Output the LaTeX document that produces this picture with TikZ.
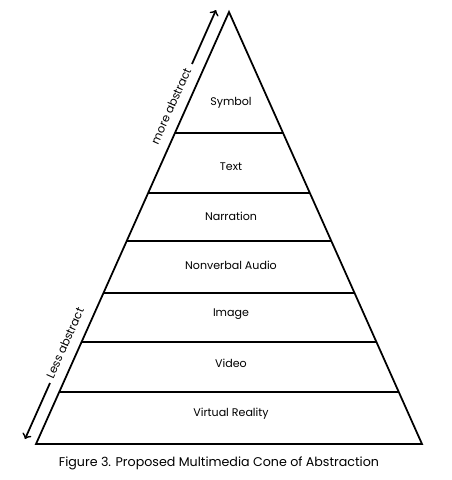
\documentclass[tikz,border=0pt]{standalone}
\usepackage{fontspec}
\setmainfont{Poppins}
\usetikzlibrary{calc}

\tikzset{
  layer/.style={font=\fontsize{6.3}{8}\selectfont},
  side/.style={font=\fontsize{6.5}{8}\selectfont, rotate=65.9}
}

\begin{document}
\begin{tikzpicture}[>=to, x=0.02cm, y=-0.02cm, line width=1pt]
  \useasboundingbox (0,0) rectangle (451,480);
  % cone
  \coordinate (top) at (229,12);
  \coordinate (bl) at (36,444);
  \coordinate (br) at (422,444);
  \draw[line join=miter] (top) -- (bl) -- (br) -- cycle;
  \foreach \y in {133,193,241,293,342,392}
    \draw ($(top)!{(\y-12)/432}!(bl)$) -- ($(top)!{(\y-12)/432}!(br)$);
  % layers
  \node[layer] (symbol) at (231,103) {Symbol};
  \node[layer] (text) at (231,167) {Text};
  \node[layer] (narration) at (231,216) {Narration};
  \node[layer] (audio) at (231,265) {Nonverbal Audio};
  \node[layer] (image) at (231,314) {Image};
  \node[layer] (video) at (231,363) {Video};
  \node[layer] (vr) at (231,414) {Virtual Reality};
  % abstraction arrows
  \coordinate (up0) at (192,64);
  \coordinate (up1) at (216,10);
  \draw[->] (up0) -- (up1);
  \node[side] (more) at (171,106) {more abstract};
  \coordinate (down0) at (50,383);
  \coordinate (down1) at (25,439);
  \draw[->] (down0) -- (down1);
  \node[side] (less) at (65,343) {Less abstract};
  \node[font=\fontsize{7.2}{9}\selectfont] (caption) at (219,463)
    {Figure 3. Proposed Multimedia Cone of Abstraction};
\end{tikzpicture}
\end{document}
